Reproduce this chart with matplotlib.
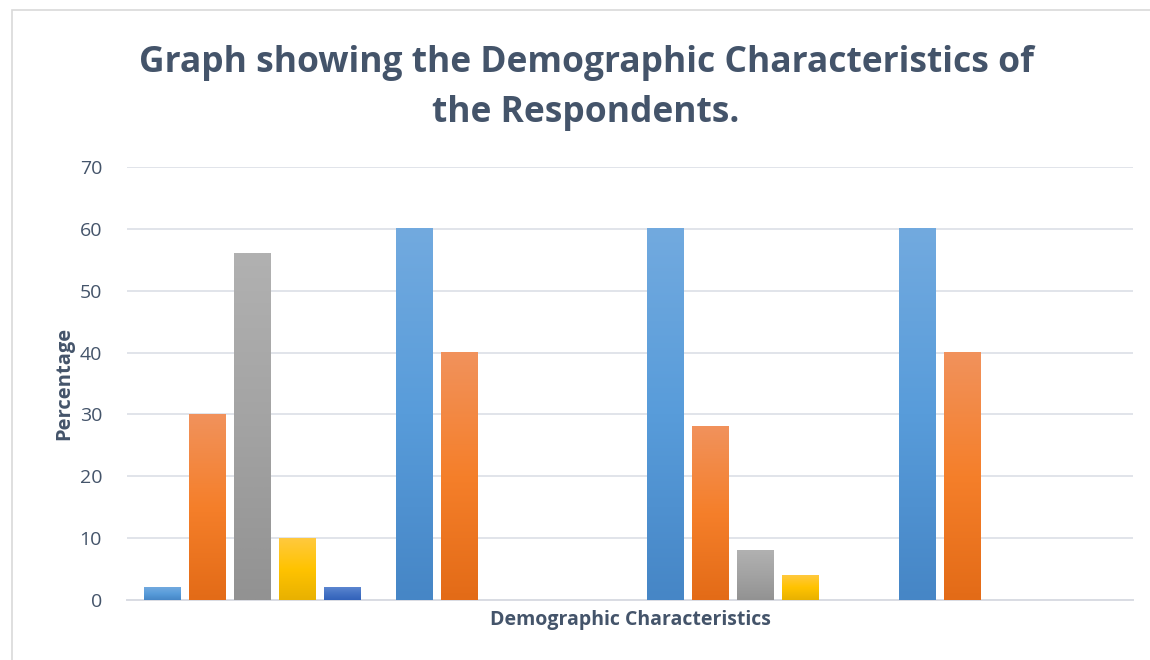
import numpy as np
import matplotlib
matplotlib.use("Agg")
import matplotlib.pyplot as plt
from matplotlib.colors import LinearSegmentedColormap
from matplotlib.patches import Rectangle

# Data
groups = ["", "", "", ""]
series_a = [2, 60, 60, 60]
series_b = [30, 40, 28, 40]
series_c = [56, 0, 8, 0]
series_d = [10, 0, 4, 0]
series_e = [2, 0, 0, 0]
yticks = [0, 10, 20, 30, 40, 50, 60, 70]

title_lines = ["Graph showing the Demographic Characteristics of", "the Respondents."]
xlabel = "Demographic Characteristics"
ylabel = "Percentage"

# (bottom, middle, top) gradient stops for each series
gradients = [
    ("#4686C6", "#589CDA", "#72AADF"),
    ("#E36B17", "#F57F2A", "#F1925C"),
    ("#929292", "#A3A3A3", "#B1B1B1"),
    ("#E8B100", "#FFC300", "#FFC93E"),
    ("#3262BA", "#4472C4", "#5C86D0"),
]

TEXT = "#44546A"
plt.rcParams["font.family"] = ["Open Sans", "DejaVu Sans"]

W, H = 1150, 660
fig = plt.figure(figsize=(W / 100, H / 100), dpi=100)
fig.patch.set_facecolor("white")

# outer chart frame
fig.add_artist(Rectangle((12 / W, -0.01), 1.0, 1 - 10 / H + 0.01,
                         transform=fig.transFigure, fill=False,
                         edgecolor="#D9D9D9", linewidth=1.2))

ax = fig.add_axes([127 / W, 1 - 600 / H, (1133 - 127) / W, (600 - 167) / H])

x = np.arange(len(groups))
step = 0.179
width = 0.147
all_series = [series_a, series_b, series_c, series_d, series_e]

for i, (vals, stops) in enumerate(zip(all_series, gradients)):
    offs = (i - 2) * step
    bars = ax.bar(x + offs, vals, width=width, color="none", edgecolor="none", zorder=3)
    cmap = LinearSegmentedColormap.from_list(f"g{i}", list(stops))
    grad = np.linspace(0, 1, 256).reshape(-1, 1)
    for b in bars:
        h = b.get_height()
        if h <= 0:
            continue
        x0 = b.get_x()
        ax.imshow(grad, cmap=cmap, origin="lower", aspect="auto",
                  extent=(x0, x0 + b.get_width(), 0, h), zorder=3,
                  interpolation="bilinear")

ax.set_xlim(-0.5, len(groups) - 0.5)
ax.set_ylim(0, 70)
ax.set_yticks(yticks)
ax.set_xticks([])
ax.yaxis.grid(True, color="#E1E4EA", linewidth=1.4, zorder=0)
ax.set_axisbelow(True)
for side in ["top", "right", "left"]:
    ax.spines[side].set_visible(False)
ax.spines["bottom"].set_color("#D9DCE3")
ax.spines["bottom"].set_linewidth(1.4)
ax.tick_params(axis="y", length=0, pad=18, labelsize=14, labelcolor=TEXT)

ax.set_xlabel(xlabel, fontsize=14, fontweight="bold", color=TEXT, labelpad=7)
ax.set_ylabel(ylabel, fontsize=14.5, fontweight="bold", color=TEXT, labelpad=4)

for line, base in zip(title_lines, [72, 122]):
    fig.text(586 / W, 1 - base / H, line, ha="center", va="baseline",
             fontsize=25.5, fontweight="bold", color=TEXT)

fig.savefig("out.png", dpi=100, facecolor="white")
